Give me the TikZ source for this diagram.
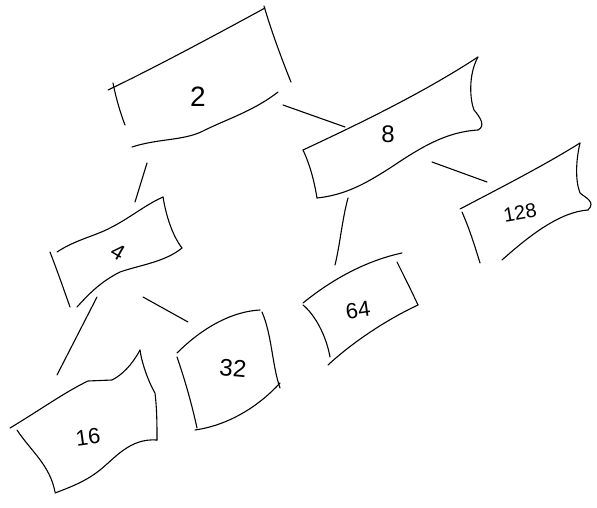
\documentclass[tikz,border=0pt]{standalone}
\usepackage{fontspec}
\setmainfont{Liberation Sans}
\begin{document}
\begin{tikzpicture}[x=1pt,y=-1pt,
  edge/.style={line width=1.1pt,line cap=round,line join=round,black},
  lbl/.style={font=\fontsize{22}{22}\selectfont,inner sep=0pt}]
\useasboundingbox (0,0) rectangle (597,508);
\fill[white] (0,0) rectangle (597,508);

% ---- box 2 ----
\draw[edge] (108,90) .. controls (150,70) and (210,38) .. (265,8);
\draw[edge] (264,6) .. controls (271,30) and (282,60) .. (291,82);
\draw[edge] (113,83) .. controls (116,98) and (120,112) .. (125,125);
\draw[edge] (132,147) .. controls (160,138) and (185,141) .. (205,130)
  .. controls (230,118) and (255,110) .. (278,92);
\node[lbl,font=\fontsize{28}{28}\selectfont] (n2) at (198,97) {2};

% ---- box 8 ----
\draw[edge] (303,150) .. controls (350,128) and (420,95) .. (478,57);
\draw[edge] (478,57) .. controls (468,75) and (470,100) .. (474,110)
  .. controls (480,117) and (486,126) .. (478,130);
\draw[edge] (478,130) .. controls (445,132) and (420,148) .. (390,168)
  .. controls (365,184) and (345,195) .. (317,198);
\draw[edge] (303,150) .. controls (310,165) and (314,180) .. (317,198);
\node[lbl,font=\fontsize{24}{24}\selectfont] (n8) at (388,134) {8};

% ---- box 128 ----
\draw[edge] (460,209) .. controls (500,188) and (545,165) .. (580,143);
\draw[edge] (580,143) .. controls (576,160) and (575,180) .. (580,193)
  .. controls (586,198) and (596,202) .. (588,210);
\draw[edge] (588,210) .. controls (560,212) and (530,235) .. (502,260);
\draw[edge] (462,212) .. controls (470,230) and (476,250) .. (480,263);
\node[lbl,rotate=10,font=\fontsize{20}{20}\selectfont] (n128) at (520,213) {128};

% ---- box 4 ----
\draw[edge] (57,252) .. controls (75,240) and (95,236) .. (110,228)
  .. controls (130,218) and (145,205) .. (163,197);
\draw[edge] (163,197) .. controls (166,215) and (172,235) .. (182,248);
\draw[edge] (182,248) .. controls (165,262) and (140,265) .. (120,272)
  .. controls (100,282) and (88,295) .. (77,307);
\draw[edge] (50,252) .. controls (57,270) and (64,290) .. (70,307);
\node[lbl,rotate=-30] (n4) at (118,252) {4};

% ---- box 64 ----
\draw[edge] (303,303) .. controls (325,285) and (360,262) .. (402,253);
\draw[edge] (397,262) .. controls (405,278) and (412,292) .. (418,305);
\draw[edge] (418,305) .. controls (390,318) and (355,340) .. (328,365);
\draw[edge] (303,305) .. controls (315,315) and (326,335) .. (330,357);
\node[lbl,rotate=8] (n64) at (358,310) {64};

% ---- box 32 ----
\draw[edge] (177,353) .. controls (195,335) and (225,312) .. (260,310);
\draw[edge] (262,312) .. controls (272,335) and (272,365) .. (280,388);
\draw[edge] (280,383) .. controls (260,405) and (230,425) .. (195,430);
\draw[edge] (177,357) .. controls (185,380) and (192,405) .. (197,428);
\node[lbl,rotate=-5,font=\fontsize{24}{24}\selectfont] (n32) at (233,368) {32};

% ---- box 16 ----
\draw[edge] (10,428) .. controls (40,410) and (65,392) .. (88,381)
  -- (112,380) .. controls (122,375) and (132,365) .. (140,350);
\draw[edge] (140,350) .. controls (142,365) and (150,385) .. (155,393)
  .. controls (157,410) and (157,425) .. (157,440);
\draw[edge] (157,440) .. controls (130,438) and (115,458) .. (100,470)
  .. controls (85,482) and (68,488) .. (55,493);
\draw[edge] (17,430) .. controls (30,450) and (50,465) .. (55,492);
\node[lbl,rotate=8] (n16) at (88,437) {16};

% ---- connector ends ----
\coordinate (a2r) at (283,105);
\coordinate (b8l) at (345,127);
\coordinate (a8r) at (432,162);
\coordinate (b128) at (487,182);
\coordinate (a8b) at (348,198);
\coordinate (b64) at (335,265);
\coordinate (a2b) at (147,163);
\coordinate (b4t) at (135,202);
\coordinate (a4r) at (143,297);
\coordinate (b32) at (188,322);
\coordinate (a4l) at (97,297);
\coordinate (b16) at (57,375);

% ---- connectors ----
\draw[edge] (a2r) -- (b8l);
\draw[edge] (a8r) -- (b128);
\draw[edge] (a8b) .. controls (342,220) and (340,245) .. (b64);
\draw[edge] (a2b) -- (b4t);
\draw[edge] (a4r) -- (b32);
\draw[edge] (a4l) -- (b16);
\end{tikzpicture}
\end{document}
